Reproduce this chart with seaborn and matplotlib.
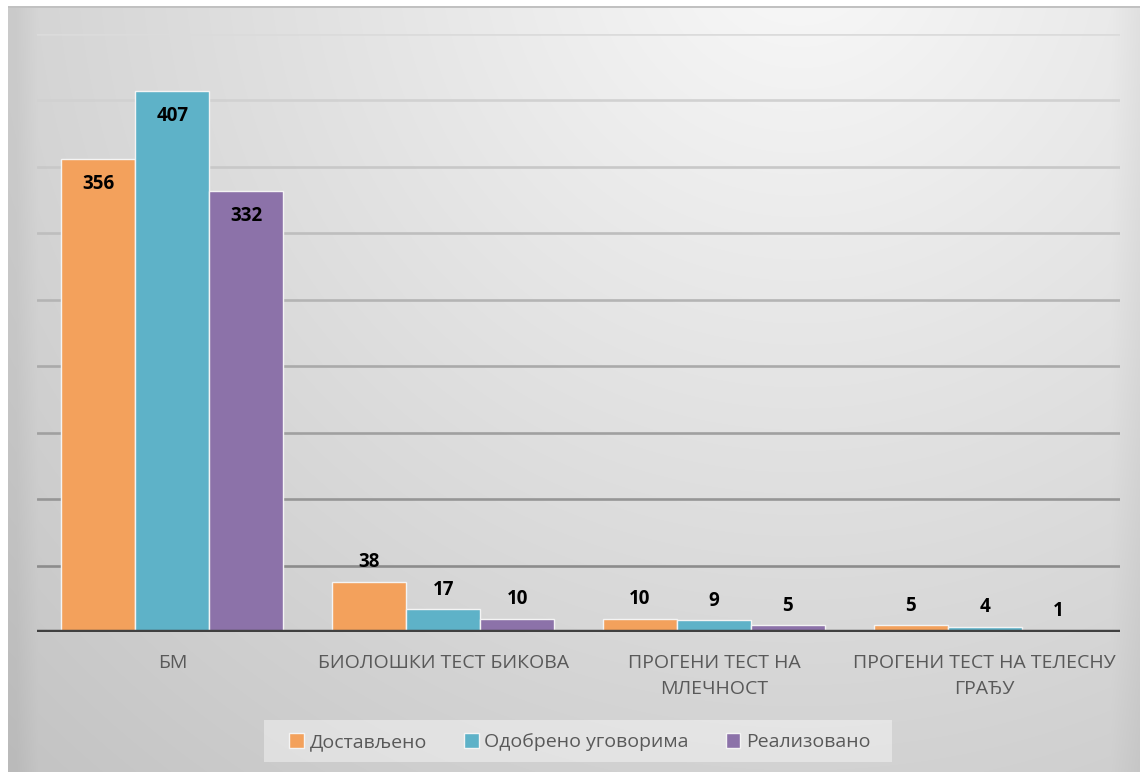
import numpy as np
import pandas as pd
import matplotlib
matplotlib.use("Agg")
import matplotlib.pyplot as plt
import seaborn as sns
from matplotlib.patches import Patch, Rectangle

categories = ["БМ", "БИОЛОШКИ ТЕСТ БИКОВА", "ПРОГЕНИ ТЕСТ НА\nМЛЕЧНОСТ", "ПРОГЕНИ ТЕСТ НА ТЕЛЕСНУ\nГРАЂУ"]
series = ["Достављено", "Одобрено уговорима", "Реализовано"]
dostavljeno = [356, 38, 10, 5]
odobreno = [407, 17, 9, 4]
realizovano = [332, 10, 5, 1]
colors = ["#F3A15C", "#5EB2C8", "#8C72A9"]
y_ticks = list(range(0, 451, 50))

sns.set_theme(style="white")
plt.rcParams["font.family"] = ["Open Sans", "DejaVu Sans"]

df = pd.DataFrame({
    "cat": categories * 3,
    "series": np.repeat(series, len(categories)),
    "value": dostavljeno + odobreno + realizovano,
})

W, H = 1140, 772
fig = plt.figure(figsize=(W / 100, H / 100), dpi=100)

# gradient background
yy, xx = np.mgrid[0:H, 0:W]
d = np.hypot(xx - 800, yy + 60)
v = 249 - 0.047 * d
v -= 9 * np.clip((30 - (xx - 8)) / 22, 0, 1)
v -= 9 * np.clip((xx - 1110) / 30, 0, 1)
v = np.clip(v, 0, 255) / 255.0
rgb = np.dstack([v, v, v])
rgb[6:8, 8:] = 0.76
rgb[:6, :] = 1.0
rgb[:, :8] = 1.0
bg = fig.add_axes([0, 0, 1, 1])
bg.imshow(rgb, aspect="auto", interpolation="bilinear")
bg.axis("off")

ax = fig.add_axes([37 / W, 140 / H, (1120 - 37) / W, (632 - 34) / H])
ax.patch.set_alpha(0)

# gridlines with gradient shade
for t in y_ticks[1:]:
    frac = (t - y_ticks[1]) / (y_ticks[-1] - y_ticks[1])
    g = 0.55 + (0.86 - 0.55) * frac
    ax.axhline(t, color=(g, g, g), lw=1.9, zorder=0)

sns.barplot(data=df, x="cat", y="value", hue="series", hue_order=series,
            palette=colors, width=0.82, gap=0, ax=ax, legend=False,
            edgecolor="#f4f4f4", linewidth=1.0, saturation=1, zorder=2)

ax.axhline(0, color="#404040", lw=3.2, zorder=3)

for cont in ax.containers:
    for p in cont.patches:
        h = p.get_height()
        x = p.get_x() + p.get_width() / 2
        off = -18 if h > 100 else 14
        ax.annotate(f"{int(round(h))}", (x, h), xytext=(0, off), textcoords="offset points",
                    ha="center", va="center", fontsize=13.5, fontweight="bold",
                    color="black", zorder=5)

ax.set_ylim(0, 450)
ax.set_xlim(-0.5, len(categories) - 0.5)
ax.set_yticks([])
ax.set_xlabel("")
ax.set_ylabel("")
ax.tick_params(axis="x", length=0, pad=16, labelsize=14, labelcolor="#595959")
for lab in ax.get_xticklabels():
    lab.set_linespacing(1.55)
for s in ax.spines.values():
    s.set_visible(False)

# legend box
fig.patches.append(Rectangle((264 / W, 1 - 762 / H), (892 - 264) / W, 42 / H,
                             transform=fig.transFigure, facecolor=(1, 1, 1, 0.4),
                             edgecolor="none", zorder=1))
handles = [Patch(facecolor=c, edgecolor="#f4f4f4", lw=1) for c in colors]
leg = fig.legend(handles, series, loc="center", bbox_to_anchor=(580 / W, 1 - 742 / H),
                 ncol=3, frameon=False, fontsize=14, handlelength=0.75,
                 handleheight=0.8, handletextpad=0.3, columnspacing=1.9,
                 labelcolor="#595959")

fig.savefig("out.png", dpi=100)
